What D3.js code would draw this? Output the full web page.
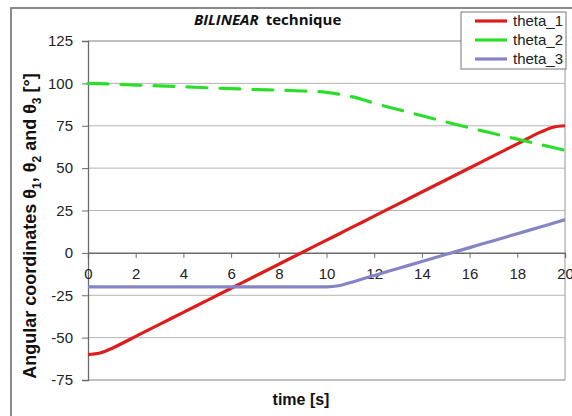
<!DOCTYPE html>
<html>
<head>
<meta charset="utf-8">
<script src="https://cdnjs.cloudflare.com/ajax/libs/d3/7.8.5/d3.min.js"></script>
<style>
	body { margin: 0; background: #fff; }
	svg { display: block; font-family: "Liberation Sans", Arial, sans-serif; }
</style>
</head>
<body>
<script>
// time samples [s]
var times = [0, 0.5, 1, 1.5, 2, 3, 4, 5, 6, 7, 8, 9, 10, 10.5, 11, 11.5, 12, 13, 14, 15, 16, 17, 18, 19, 19.5, 20];

// values [deg]
var theta1 = [-60, -59.1, -56.4, -52.9, -49.3, -42.2, -35.1, -28, -20.9, -13.8, -6.7, 0.4, 7.5, 11, 14.6, 18.1, 21.7, 28.8, 35.9, 43, 50.1, 57.2, 64.3, 71.4, 74.1, 75];
var theta2 = [100, 99.8, 99.6, 99.3, 99, 98.5, 98, 97.4, 96.9, 96.4, 96, 95.5, 94.7, 93.7, 92.3, 90.5, 88.3, 84.6, 80.9, 77.3, 73.8, 70.4, 67.1, 63.8, 62.2, 60.5];
var theta3 = [-20, -20, -20, -20, -20, -20, -20, -20, -20, -20, -20, -20, -20, -19.4, -17.5, -15.4, -13.3, -9.2, -5.1, -1, 3.1, 7.2, 11.3, 15.4, 17.5, 19.6];

var seriesNames = ["theta_1", "theta_2", "theta_3"];
var seriesColors = ["#dd1c1c", "#2ade2a", "#8585c6"];

var yTicks = [-75, -50, -25, 0, 25, 50, 75, 100, 125];
var xTicks = [0, 2, 4, 6, 8, 10, 12, 14, 16, 18, 20];

var W = 572, H = 416;
var plotL = 88, plotR = 565, plotT = 41, plotB = 380;

var svg = d3.select("body").append("svg")
	.attr("width", W)
	.attr("height", H);

// outer frame
svg.append("rect")
	.attr("x", 11).attr("y", 8)
	.attr("width", 600).attr("height", 450)
	.attr("fill", "none")
	.attr("stroke", "#8a8a8a")
	.attr("stroke-width", 2);

var x = d3.scaleLinear().domain([0, 20]).range([plotL, plotR]);
var y = d3.scaleLinear().domain([-75, 125]).range([plotB, plotT]);

// gridlines
svg.append("g")
	.selectAll("line")
	.data(yTicks)
	.enter()
	.append("line")
		.attr("x1", plotL).attr("x2", plotR)
		.attr("y1", function(d) { return y(d); })
		.attr("y2", function(d) { return y(d); })
		.attr("stroke", "#b4b4b4")
		.attr("stroke-width", 1);

// plot area border (right, bottom)
svg.append("path")
	.attr("d", "M" + plotL + "," + plotT + "H" + plotR + "V" + plotB + "H" + plotL)
	.attr("fill", "none")
	.attr("stroke", "#a8a8a8")
	.attr("stroke-width", 1.2);

var plain = function(d) { return String(d); };

// y axis
var yAxis = svg.append("g")
	.attr("transform", "translate(" + plotL + ",0)")
	.call(d3.axisLeft(y).tickValues(yTicks).tickFormat(plain).tickSize(6).tickPadding(9));

// x axis at zero
var xAxis = svg.append("g")
	.attr("transform", "translate(0," + y(0) + ")")
	.call(d3.axisBottom(x).tickValues(xTicks).tickFormat(plain).tickSize(5).tickPadding(10));

[yAxis, xAxis].forEach(function(ax) {
	ax.select(".domain").attr("stroke", "#6a6a6a").attr("stroke-width", 1.3);
	ax.selectAll(".tick line").attr("stroke", "#6a6a6a");
	ax.selectAll("text")
		.attr("font-family", "Liberation Sans, Arial, sans-serif")
		.attr("font-size", 15)
		.attr("fill", "#222");
});

// lines
var data = times.map(function(t, i) {
	return { t: t, v: [theta1[i], theta2[i], theta3[i]] };
});

[0, 2, 1].forEach(function(k) {
	var line = d3.line()
		.x(function(d) { return x(d.t); })
		.y(function(d) { return y(d.v[k]); })
		.curve(d3.curveMonotoneX);
	svg.append("path")
		.datum(data)
		.attr("d", line)
		.attr("fill", "none")
		.attr("stroke", seriesColors[k])
		.attr("stroke-width", 3.2)
		.attr("stroke-linecap", k == 1 ? "round" : "butt")
		.attr("stroke-dasharray", k == 1 ? "20,13" : null);
});

// title
var title = svg.append("text")
	.attr("x", 194)
	.attr("y", 25)
	.attr("font-family", "Open Sans, sans-serif")
	.attr("font-weight", "bold")
	.attr("font-size", 15)
	.attr("fill", "#111");
title.append("tspan").attr("font-style", "italic").text("BILINEAR");
title.append("tspan").attr("dx", 7).text("technique");

// x axis title
svg.append("text")
	.attr("x", 301)
	.attr("y", 405)
	.attr("text-anchor", "middle")
	.attr("font-weight", "bold")
	.attr("font-size", 16)
	.attr("fill", "#111")
	.text("time [s]");

// y axis title
var yt = svg.append("text")
	.attr("transform", "translate(36,226) rotate(-90)")
	.attr("text-anchor", "middle")
	.attr("font-weight", "bold")
	.attr("font-size", 18)
	.attr("fill", "#111");
yt.append("tspan").text("Angular coordinates  \u03b8");
yt.append("tspan").attr("font-size", 12).attr("dy", 5).text("1");
yt.append("tspan").attr("dy", -5).text(", \u03b8");
yt.append("tspan").attr("font-size", 12).attr("dy", 5).text("2");
yt.append("tspan").attr("dy", -5).text(" and \u03b8");
yt.append("tspan").attr("font-size", 12).attr("dy", 5).text("3");
yt.append("tspan").attr("dy", -5).text(" [\u00b0]");

// legend
var legend = svg.append("g").attr("transform", "translate(461,12)");
legend.append("rect")
	.attr("width", 105).attr("height", 57)
	.attr("fill", "#fff")
	.attr("stroke", "#777")
	.attr("stroke-width", 1);

seriesNames.forEach(function(name, i) {
	var row = legend.append("g").attr("transform", "translate(0," + (9 + i * 19) + ")");
	row.append("line")
		.attr("x1", 14).attr("x2", 46)
		.attr("y1", 0).attr("y2", 0)
		.attr("stroke", seriesColors[i])
		.attr("stroke-width", 3.2);
	row.append("text")
		.attr("x", 52).attr("y", 5)
		.attr("font-size", 15)
		.attr("fill", "#222")
		.text(name);
});
</script>
</body>
</html>
